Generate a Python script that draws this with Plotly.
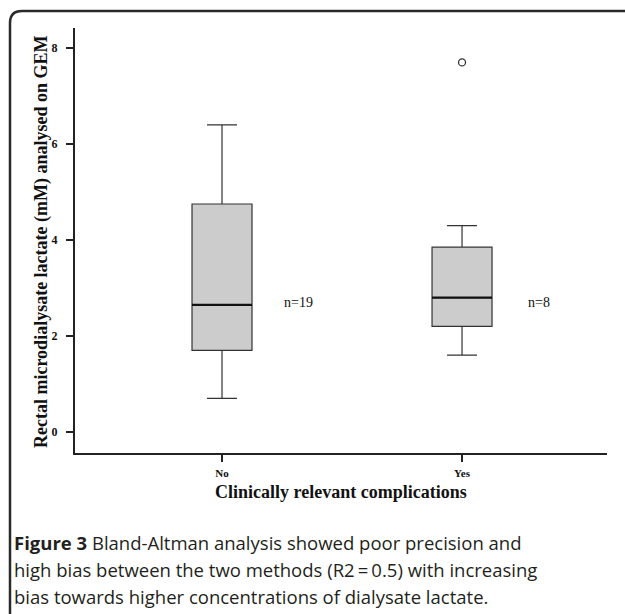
import plotly.graph_objects as go

# ---- data ----
categories = ["No", "Yes"]
lower_whisker = [0.7, 1.6]
q1 = [1.7, 2.2]
median = [2.65, 2.8]
q3 = [4.75, 3.85]
upper_whisker = [6.4, 4.3]
outlier_cat = ["Yes"]
outlier_val = [7.7]
n_counts = [19, 8]
y_ticks = [0, 2, 4, 6, 8]

W, H = 625, 614
SERIF = "Liberation Serif"

fig = go.Figure()
pos = list(range(len(categories)))
BW = 0.25
for i, c in enumerate(categories):
    fig.add_trace(go.Box(
        x=[pos[i]], q1=[q1[i]], median=[median[i]], q3=[q3[i]],
        lowerfence=[lower_whisker[i]], upperfence=[upper_whisker[i]],
        width=BW, whiskerwidth=0.5, fillcolor="#cccccc",
        line=dict(color="#333333", width=1.2), boxpoints=False,
        showlegend=False, hoverinfo="skip"))
    # thicker median line
    fig.add_trace(go.Scatter(
        x=[pos[i] - BW / 2, pos[i] + BW / 2], y=[median[i], median[i]],
        mode="lines", line=dict(color="#111111", width=2.2),
        showlegend=False, hoverinfo="skip"))
    fig.add_annotation(x=pos[i] + 0.32, y=2.69, text=f"n={n_counts[i]}",
                       showarrow=False, xref="x", yref="y",
                       xanchor="center", yanchor="middle",
                       font=dict(family=SERIF, size=14, color="#111111"))

fig.add_trace(go.Scatter(
    x=[categories.index(c) for c in outlier_cat], y=outlier_val, mode="markers",
    marker=dict(symbol="circle-open", size=7, color="#333333", line=dict(width=1.3)),
    showlegend=False, hoverinfo="skip"))

# plot area in pixels
px_l, px_r, py_t, py_b = 75, 607, 28, 453
fig.update_layout(
    width=W, height=H, margin=dict(l=0, r=0, t=0, b=0),
    plot_bgcolor="white", paper_bgcolor="white",
    xaxis=dict(domain=[px_l / W, px_r / W], range=[-0.6125, 1.604],
               tickvals=pos, ticktext=[f"<b>{c}</b>" for c in categories],
               showgrid=False, zeroline=False, showline=True,
               linecolor="#222222", linewidth=2, ticks="outside",
               ticklen=7, tickwidth=2, tickcolor="#222222", ticklabelstandoff=2,
               tickfont=dict(family=SERIF, size=11, color="#111111")),
    yaxis=dict(domain=[1 - py_b / H, 1 - py_t / H], range=[-0.4375, 8.417],
               tickvals=y_ticks, ticktext=[f"<b>{t}</b>" for t in y_ticks],
               showgrid=False, zeroline=False, showline=True,
               linecolor="#222222", linewidth=2, ticks="outside",
               ticklen=7, tickwidth=2, tickcolor="#222222", ticklabelstandoff=6,
               tickfont=dict(family=SERIF, size=12, color="#111111")),
)

# axis titles
fig.add_annotation(x=(px_l + px_r) / 2 / W, y=1 - 492 / H, xref="paper", yref="paper",
                   xanchor="center", yanchor="middle",
                   text="<b>Clinically relevant complications</b>", showarrow=False,
                   font=dict(family=SERIF, size=18, color="#111111"))
fig.add_annotation(x=42 / W, y=1 - 242 / H, xref="paper", yref="paper", textangle=-90,
                   xanchor="center", yanchor="middle",
                   text="<b>Rectal microdialysate lactate (mM) analysed on GEM</b>",
                   showarrow=False, font=dict(family=SERIF, size=18, color="#111111"))

# caption
caption = ["<b>Figure 3</b> Bland-Altman analysis showed poor precision and",
           "high bias between the two methods (R2\u2009=\u20090.5) with increasing",
           "bias towards higher concentrations of dialysate lactate."]
for k, line in enumerate(caption):
    fig.add_annotation(x=12 / W, y=1 - (542 + 27 * k) / H, xref="paper", yref="paper",
                       xanchor="left", yanchor="middle", text=line, showarrow=False,
                       font=dict(family="Open Sans", size=18.5, color="#231f20"))

# frame with rounded left corners
def P(x, y):
    return f"{x / W:.5f},{1 - y / H:.5f}"
r = 12
path = (f"M {P(640, 11)} L {P(10 + r, 11)} Q {P(10, 11)} {P(10, 11 + r)} "
        f"L {P(10, 630)}")
fig.add_shape(type="path", path=path, xref="paper", yref="paper",
              line=dict(color="#2a2a2a", width=2.5))

fig.write_html("out.html", config={"displayModeBar": False},
               post_script="document.body.style.margin='0';document.body.style.overflow='hidden';")
